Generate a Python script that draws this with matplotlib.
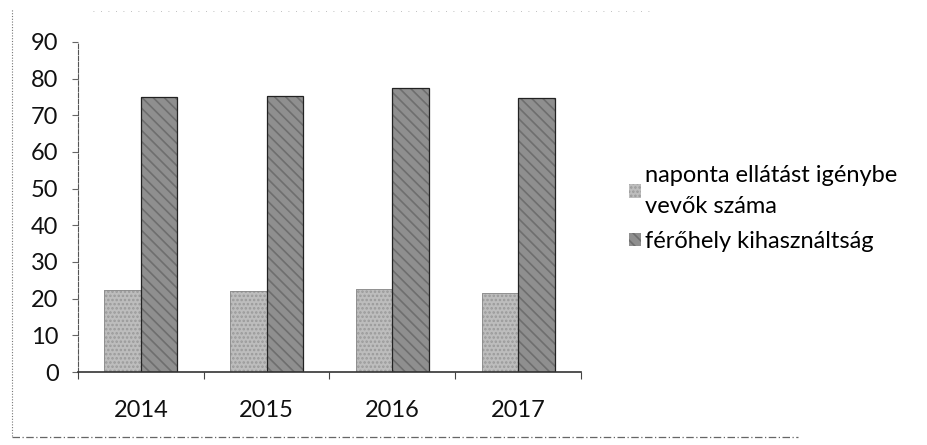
import numpy as np
import matplotlib.pyplot as plt
from matplotlib.lines import Line2D
from matplotlib.patches import Patch

plt.rcParams['font.family'] = ['Lato', 'DejaVu Sans']

evek = ['2014', '2015', '2016', '2017']
ellatottak = [22.3, 22.0, 22.6, 21.5]
kihasznaltsag = [75.0, 75.2, 77.4, 74.8]
nevek = ['naponta ellátást igénybe\nvevők száma', 'férőhely kihasználtság']

fig = plt.figure(figsize=(9.28, 4.45), dpi=100)
ax = fig.add_axes([0.084, 0.164, 0.542, 0.742])

x = np.arange(len(evek))
w = 0.29

plt.rcParams['hatch.linewidth'] = 1.2
# világosabb oszlop pontozott mintával, sötétebb ferde csíkokkal
ax.bar(x - w / 2, ellatottak, w, color='#bdbdbd', hatch='....', edgecolor='#9a9a9a', lw=0)
ax.bar(x + w / 2, kihasznaltsag, w, color='#8f8f8f', hatch='\\\\\\', edgecolor='#6e6e6e', lw=0)
ax.bar(x - w / 2, ellatottak, w, fill=False, edgecolor='#8a8a8a', lw=0.6)
ax.bar(x + w / 2, kihasznaltsag, w, fill=False, edgecolor='#222222', lw=0.9)

ax.set_xlim(-0.5, len(evek) - 0.5)
ax.set_ylim(0, 90)
ax.set_yticks(np.arange(0, 91, 10))
ax.set_xticks(x)
ax.set_xticklabels(evek, fontsize=17)
ax.set_xticks(np.arange(-0.5, len(evek), 1), minor=True)
ax.tick_params(axis='x', which='major', length=0, pad=20)
ax.tick_params(axis='x', which='minor', length=5, width=0.8, color='#444444')
ax.tick_params(axis='y', length=4, width=0.8, color='#666666', labelsize=17, pad=10)
for t in ax.get_xticklabels() + ax.get_yticklabels():
    t.set_color('#111111')

for s in ['top', 'right']:
    ax.spines[s].set_visible(False)
ax.spines['left'].set_color('#555555')
ax.spines['left'].set_linestyle((0, (4, 1.5)))
ax.spines['bottom'].set_color('#333333')
ax.spines['bottom'].set_linewidth(1.2)

handles = [Patch(facecolor='#bdbdbd', hatch='....', edgecolor='#9a9a9a', lw=0),
           Patch(facecolor='#8f8f8f', hatch='\\\\\\', edgecolor='#6e6e6e', lw=0)]
leg = fig.legend(handles, nevek, loc='upper left', bbox_to_anchor=(0.665, 0.655),
                 frameon=False, fontsize=17, handlelength=0.5, handleheight=0.5,
                 handletextpad=0.2, labelspacing=0.6, borderpad=0)
for t in leg.get_texts():
    t.set_linespacing(1.55)

# a diagram keretének pontozott széle
fig.add_artist(Line2D([0.013, 0.013], [0.02, 0.98], transform=fig.transFigure,
                      color='#777777', lw=0.8, ls=(0, (1, 1.5))))
fig.add_artist(Line2D([0.013, 0.86], [0.018, 0.018], transform=fig.transFigure,
                      color='#666666', lw=0.9, ls=(0, (6, 2, 1, 2))))
fig.add_artist(Line2D([0.1, 0.7], [0.975, 0.975], transform=fig.transFigure,
                      color='#aaaaaa', lw=0.6, ls=(0, (1, 8))))

fig.savefig('out.png', dpi=100)
